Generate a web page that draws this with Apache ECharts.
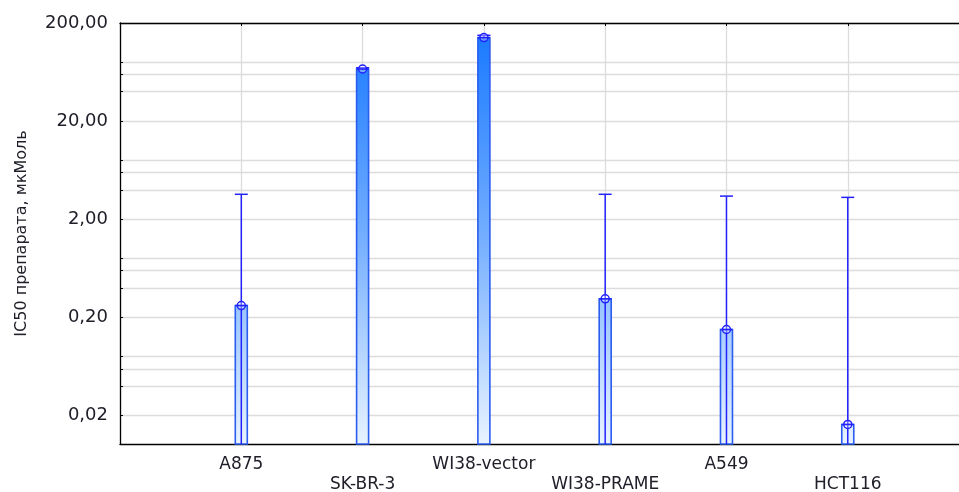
<!DOCTYPE html>
<html>
<head>
<meta charset="utf-8">
<script src="https://cdn.jsdelivr.net/npm/echarts@6/dist/echarts.min.js"></script>
<style>
html,body{margin:0;padding:0;background:#fff;}
#c{width:959px;height:492px;}
</style>
</head>
<body>
<div id="c"></div>
<script>
// ---- data ----
const categories = ['A875', 'SK-BR-3', 'WI38-vector', 'WI38-PRAME', 'A549', 'HCT116'];
const ic50Mean  = [0.265, 68, 142, 0.31, 0.151, 0.0163];
const ic50Upper = [3.6, 70, 150, 3.6, 3.45, 3.35];
const ic50Lower = [0.001, 66, 135, 0.001, 0.001, 0.001];
const yTickLabels = [0.02, 0.2, 2, 20, 200];
const yGridValues = [0.02, 0.04, 0.06, 0.08, 0.2, 0.4, 0.6, 0.8, 2, 4, 6, 8, 20, 40, 60, 80, 200];
const Y_MIN = 0.0103;
const Y_MAX = 200;
const X_MAX = 6.917;
const yTitle = 'IC50 препарата, мкМоль';

// ---- chart ----
const chart = echarts.init(document.getElementById('c'), null, {renderer: 'canvas'});
const FONT = 'DejaVu Sans';
const TXT = '#20202a';

const seriesData = categories.map((c, i) => [i + 1, ic50Mean[i], ic50Upper[i], ic50Lower[i]]);

function renderItem(params, api) {
  const x = api.value(0);
  const mean = api.value(1);
  const up = api.value(2);
  const lo = Math.max(api.value(3), Y_MIN);
  const pTop = api.coord([x, mean]);
  const pBase = api.coord([x, Y_MIN]);
  const pUp = api.coord([x, up]);
  const pLo = api.coord([x, lo]);
  const gTop = api.coord([x, Y_MAX])[1];
  const gBot = pBase[1];
  const w = 12;
  const cx = pTop[0];
  const grad = new echarts.graphic.LinearGradient(0, gTop, 0, gBot, [
    {offset: 0, color: '#1577ff'},
    {offset: 0.5, color: '#72adff'},
    {offset: 1, color: '#e8f3ff'}
  ], true);
  const blue = '#2222ff';
  return {
    type: 'group',
    children: [
      {type: 'rect', shape: {x: cx - w / 2, y: pTop[1], width: w, height: gBot - pTop[1]},
       style: {fill: grad, stroke: '#2a5cf0', lineWidth: 1.6}},
      {type: 'line', shape: {x1: cx, y1: pLo[1], x2: cx, y2: pUp[1]},
       style: {stroke: blue, lineWidth: 1.5}},
      {type: 'line', shape: {x1: cx - 6.5, y1: pUp[1], x2: cx + 6.5, y2: pUp[1]},
       style: {stroke: blue, lineWidth: 1.5}},
      {type: 'circle', shape: {cx: cx, cy: pTop[1], r: 4},
       style: {fill: 'rgba(255,255,255,0.35)', stroke: blue, lineWidth: 1.5}},
      {type: 'line', shape: {x1: cx - 6, y1: pTop[1], x2: cx + 6, y2: pTop[1]},
       style: {stroke: blue, lineWidth: 1.5}}
    ]
  };
}

const option = {
  animation: false,
  backgroundColor: '#fff',
  grid: {left: 120, right: 0, top: 23, bottom: 48, containLabel: false, outerBoundsMode: 'none'},
  xAxis: [
    {
      type: 'value', min: 0, max: X_MAX, interval: 1, position: 'bottom',
      axisLine: {show: true, onZero: false, lineStyle: {color: '#000', width: 1.3}},
      axisTick: {show: true, inside: true, length: 3, lineStyle: {color: '#000'}},
      splitLine: {show: true, showMaxLine: false, lineStyle: {color: '#dcdcdc', width: 1.3}},
      axisLabel: {
        show: true, margin: 11, lineHeight: 20, fontFamily: FONT, fontSize: 17, color: TXT,
        showMaxLabel: false,
        formatter: function (v) {
          const i = Math.round(v) - 1;
          if (Math.abs(v - Math.round(v)) > 1e-6 || i < 0 || i >= categories.length) return '';
          return (i % 2 === 1 ? '\n' : '') + categories[i];
        }
      }
    },
    {
      type: 'value', min: 0, max: X_MAX, interval: 1, position: 'top',
      axisLine: {show: true, onZero: false, lineStyle: {color: '#000', width: 1.3}},
      axisTick: {show: true, inside: true, length: 3, lineStyle: {color: '#000'}},
      splitLine: {show: false},
      axisLabel: {show: false}
    }
  ],
  yAxis: [
    {
      type: 'log', logBase: 10, min: Y_MIN, max: Y_MAX, show: false,
      splitLine: {show: false}
    },
    {
      type: 'value', min: Math.log10(Y_MIN), max: Math.log10(Y_MAX), position: 'left',
      name: yTitle, nameLocation: 'middle', nameGap: 90,
      nameTextStyle: {fontFamily: FONT, fontSize: 16, color: TXT},
      axisLine: {show: true, onZero: false, lineStyle: {color: '#000', width: 1.3}},
      axisTick: {show: true, inside: true, length: 3, lineStyle: {color: '#000'},
                 customValues: yGridValues.map(v => Math.log10(v))},
      splitLine: {show: true, lineStyle: {color: '#dcdcdc', width: 1.3}},
      axisLabel: {
        show: true, margin: 12, fontFamily: FONT, fontSize: 18, color: TXT,
        customValues: yTickLabels.map(v => Math.log10(v)),
        formatter: function (v) {
          return Math.pow(10, v).toFixed(2).replace('.', ',');
        }
      }
    }
  ],
  series: [
    {
      type: 'custom', xAxisIndex: 0, yAxisIndex: 0,
      renderItem: renderItem,
      encode: {x: 0, y: 1},
      data: seriesData,
      z: 5
    }
  ]
};
chart.setOption(option);
</script>
</body>
</html>
